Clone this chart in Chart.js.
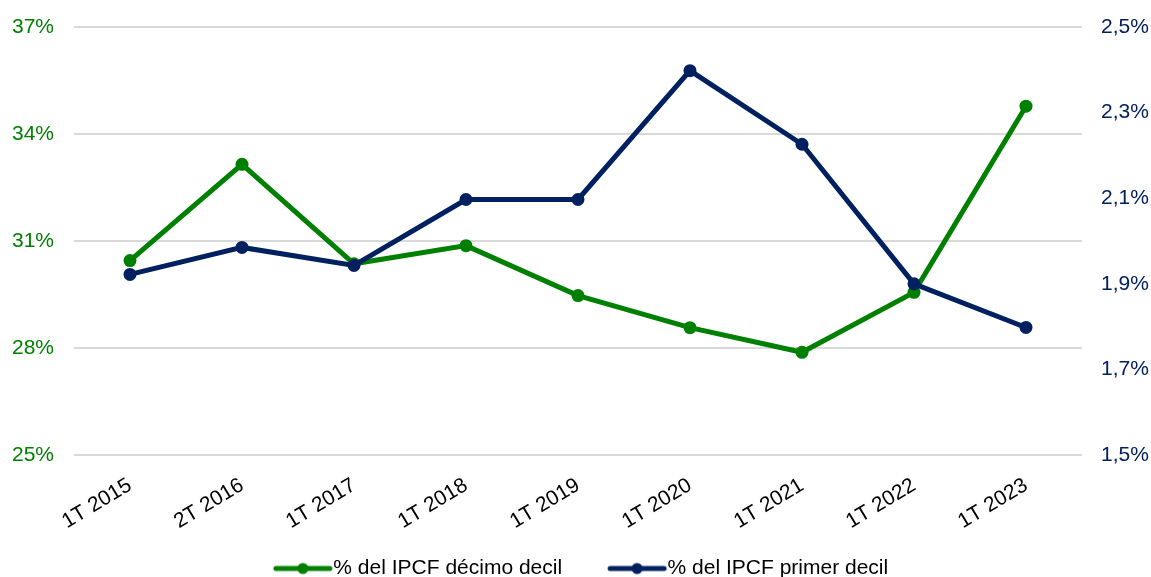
<!DOCTYPE html>
<html>
<head>
<meta charset="utf-8">
<script src="https://cdn.jsdelivr.net/npm/chart.js@4"></script>
<style>
    html, body { margin: 0; padding: 0; background: #fff; }
    #wrap { width: 1151px; height: 577px; }
</style>
</head>
<body>
<div id="wrap"><canvas id="chart"></canvas></div>
<script>
// Data
const labels = ['1T 2015', '2T 2016', '1T 2017', '1T 2018', '1T 2019', '1T 2020', '1T 2021', '1T 2022', '1T 2023'];
const decimoDecil = [30.45, 33.15, 30.36, 30.87, 29.47, 28.57, 27.88, 29.56, 34.78];
const primerDecil = [1.922, 1.985, 1.943, 2.097, 2.097, 2.398, 2.226, 1.900, 1.798];

const GREEN = '#008000';
const NAVY = '#002060';
const FONT = '"Liberation Sans", Arial, Helvetica, sans-serif';

// legend marker: line with a dot in the middle (drawn a bit left so the text sits close)
function legendMarker(color) {
    const c = document.createElement('canvas');
    c.width = 80;
    c.height = 14;
    const ctx = c.getContext('2d');
    ctx.strokeStyle = color;
    ctx.lineWidth = 5;
    ctx.lineCap = 'round';
    ctx.beginPath();
    ctx.moveTo(18, 7);
    ctx.lineTo(72, 7);
    ctx.stroke();
    ctx.fillStyle = color;
    ctx.beginPath();
    ctx.arc(45, 7, 5.5, 0, Math.PI * 2);
    ctx.fill();
    return c;
}

// y axes: drop the extra top/bottom padding so the plot starts right at layout padding
function noVertPadding(scale) {
    scale.paddingTop = 0;
    scale.paddingBottom = 0;
}

// let rotated x labels run below the (fixed height) x axis box without clipping,
// and nudge the legend a little to the right like the original
const layoutTweaks = {
    id: 'layoutTweaks',
    afterLayout(chart) {
        chart.scales.x.bottom = chart.height;
        chart.legend.left += 5;
        chart.legend.right += 5;
    }
};

new Chart(document.getElementById('chart'), {
    type: 'line',
    data: {
        labels: labels,
        datasets: [
            {
                label: '% del IPCF décimo decil',
                data: decimoDecil,
                yAxisID: 'y',
                borderColor: GREEN,
                backgroundColor: GREEN,
                borderWidth: 5,
                pointRadius: 6.5,
                pointBorderWidth: 0,
                tension: 0,
                order: 1
            },
            {
                label: '% del IPCF primer decil',
                data: primerDecil,
                yAxisID: 'y1',
                borderColor: NAVY,
                backgroundColor: NAVY,
                borderWidth: 5,
                pointRadius: 6.5,
                pointBorderWidth: 0,
                tension: 0,
                order: 0
            }
        ]
    },
    plugins: [layoutTweaks],
    options: {
        responsive: true,
        maintainAspectRatio: false,
        animation: false,
        layout: { padding: { top: 27, bottom: -12, left: 0, right: 0 } },
        plugins: {
            tooltip: { enabled: false },
            legend: {
                position: 'bottom',
                labels: {
                    usePointStyle: true,
                    pointStyleWidth: 50,
                    padding: 45,
                    color: '#000',
                    font: { family: FONT, size: 21 },
                    generateLabels: (chart) => chart.data.datasets.map((ds, i) => ({
                        text: ds.label,
                        datasetIndex: i,
                        pointStyle: legendMarker(ds.borderColor),
                        fillStyle: ds.borderColor,
                        strokeStyle: ds.borderColor,
                        lineWidth: 0,
                        fontColor: '#000',
                        hidden: false
                    }))
                }
            }
        },
        scales: {
            x: {
                offset: true,
                grid: { display: false },
                border: { display: false },
                ticks: {
                    color: '#000',
                    font: { family: FONT, size: 21 },
                    minRotation: 31,
                    maxRotation: 31,
                    padding: 10
                },
                afterFit: (scale) => { scale.height = 58; }
            },
            y: {
                position: 'left',
                min: 25,
                max: 37,
                grid: { color: '#d9d9d9', lineWidth: 2, drawTicks: false },
                border: { display: false },
                ticks: {
                    stepSize: 3,
                    padding: 20,
                    color: GREEN,
                    font: { family: FONT, size: 21 },
                    callback: (v) => v + '%'
                },
                afterFit: (scale) => { scale.width = 74; noVertPadding(scale); }
            },
            y1: {
                position: 'right',
                min: 1.5,
                max: 2.5,
                grid: { drawOnChartArea: false, drawTicks: false },
                border: { display: false },
                ticks: {
                    stepSize: 0.2,
                    padding: 19,
                    color: NAVY,
                    font: { family: FONT, size: 21 },
                    callback: (v) => v.toFixed(1).replace('.', ',') + '%'
                },
                afterFit: (scale) => { scale.width = 69; noVertPadding(scale); }
            }
        }
    }
});
</script>
</body>
</html>
